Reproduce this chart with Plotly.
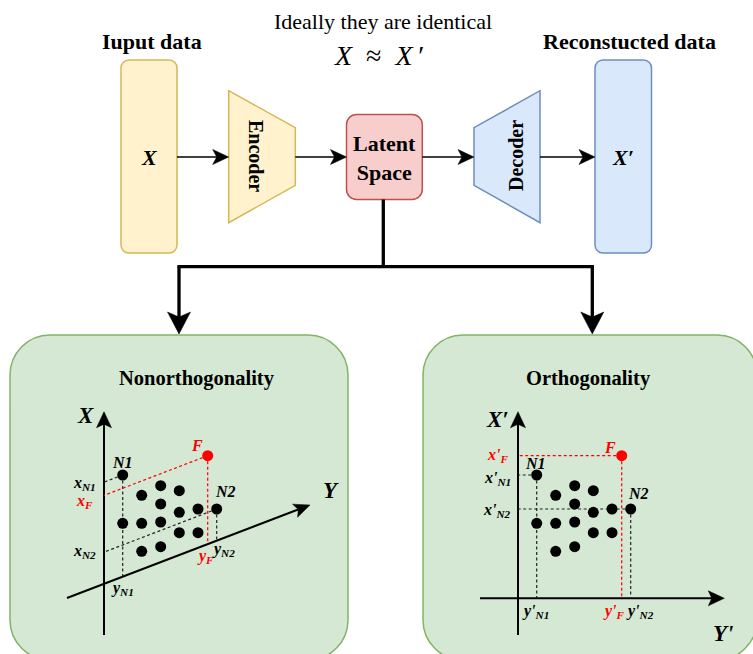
import plotly.graph_objects as go

W, H = 753, 654
FONT = "Liberation Serif, Times New Roman, serif"

# ---- data: sample points in the latent-space panels ----
# horizontal offset from the panel's vertical axis and vertical position (canvas units)
point_names = ["N1", "F", "a", "b", "c", "d", "e", "f", "N2", "g", "h", "i", "j", "k", "l", "m"]
point_dx = [18.7, 103.7, 37.7, 56.7, 75.3, 56.7, 75.3, 94.0, 112.7, 18.7, 37.7, 56.7, 75.3, 94.0, 37.7, 56.7]
point_y = [475.0, 455.7, 495.3, 485.7, 490.7, 504.0, 512.3, 509.0, 509.0, 523.3, 523.3, 522.0, 532.7, 532.7, 551.3, 546.7]
projected = ["N1", "F", "N2"]

panel_axis_x = [104.0, 518.0]   # vertical axis of left / right panel
left_yaxis = [(67.0, 598.0), (310.0, 505.0)]   # slanted Y axis (left panel)
right_yaxis_y = 598.3

YELLOW = ("#fff2cc", "#d6b656")
RED = ("#f8cecc", "#b85450")
BLUE = ("#dae8fc", "#6c8ebf")
GREEN = ("#d5e8d4", "#82b366")

shapes = []
annotations = []


def rrect(x0, y0, x1, y1, r, colors, lw=1.5):
    k = 0.5523 * r
    p = (f"M{x0+r},{y0} L{x1-r},{y0} C{x1-r+k},{y0} {x1},{y0+r-k} {x1},{y0+r} "
         f"L{x1},{y1-r} C{x1},{y1-r+k} {x1-r+k},{y1} {x1-r},{y1} "
         f"L{x0+r},{y1} C{x0+r-k},{y1} {x0},{y1-r+k} {x0},{y1-r} "
         f"L{x0},{y0+r} C{x0},{y0+r-k} {x0+r-k},{y0} {x0+r},{y0} Z")
    shapes.append(dict(type="path", path=p, fillcolor=colors[0],
                       line=dict(color=colors[1], width=lw), layer="below"))


def poly(pts, colors, lw=1.5):
    p = "M" + " L".join(f"{x},{y}" for x, y in pts) + " Z"
    shapes.append(dict(type="path", path=p, fillcolor=colors[0],
                       line=dict(color=colors[1], width=lw), layer="below"))


def line(x0, y0, x1, y1, color="black", width=1.7, dash=None):
    d = dict(type="line", x0=x0, y0=y0, x1=x1, y1=y1,
             line=dict(color=color, width=width), layer="below")
    if dash:
        d["line"]["dash"] = dash
    shapes.append(d)


def arrow(x0, y0, x1, y1, width=1.7, L=16, Wd=15, notch=4, color="black"):
    dx, dy = x1 - x0, y1 - y0
    n = (dx * dx + dy * dy) ** 0.5
    ux, uy = dx / n, dy / n
    px, py = -uy, ux
    bx, by = x1 - ux * L, y1 - uy * L
    nx, ny = x1 - ux * (L - notch), y1 - uy * (L - notch)
    line(x0, y0, nx + ux * 0.5, ny + uy * 0.5, color=color, width=width)
    p = (f"M{x1},{y1} L{bx + px*Wd/2},{by + py*Wd/2} L{nx},{ny} "
         f"L{bx - px*Wd/2},{by - py*Wd/2} Z")
    shapes.append(dict(type="path", path=p, fillcolor=color,
                       line=dict(color=color, width=0.5), layer="below"))


def text(x, y, s, size=16, color="black", angle=0):
    annotations.append(dict(x=x, y=y, xref="x", yref="y", text=s, showarrow=False,
                            textangle=angle,
                            font=dict(family=FONT, size=size, color=color),
                            xanchor="center", yanchor="middle"))


# ---------------- top: autoencoder ----------------
text(383, 21, "Ideally they are identical", size=22)
text(379, 55, "<i>X</i>\u2002≈\u2002<i>X</i>\u2009′", size=28)
text(152, 41, "<b>Iuput data</b>", size=22)
text(629, 41, "<b>Reconstucted data</b>", size=22)

rrect(121, 60, 177, 253, 8, YELLOW)
text(149, 157, "<b><i>X</i></b>", size=22)
poly([(228.7, 90.7), (295.3, 127.7), (295.3, 185.3), (228.7, 222.7)], YELLOW)
text(256, 156, "<b>Encoder</b>", size=20, angle=90)

rrect(346.5, 114.5, 422.3, 199.5, 10, RED)
text(384, 158, "<b>Latent<br>Space</b>", size=22)

poly([(474, 127.7), (540, 90.7), (540, 222.7), (474, 185.3)], BLUE)
text(516, 156, "<b>Decoder</b>", size=20, angle=-90)

rrect(595, 60, 651.5, 253, 8, BLUE)
text(623, 157, "<b><i>X′</i></b>", size=22)

arrow(177, 157, 228.7, 157)
arrow(295.3, 157, 346.5, 157)
arrow(422.3, 157, 474, 157)
arrow(540, 157, 595, 157)

# connector to the two panels
line(383.3, 199.5, 383.3, 266.7, width=3.3)
line(177.4, 266.7, 593.9, 266.7, width=3.3)
arrow(179, 266.7, 179, 334, width=3.3, L=22, Wd=23, notch=5)
arrow(592.3, 266.7, 592.3, 334, width=3.3, L=22, Wd=23, notch=5)

# ---------------- panels ----------------
rrect(10, 335, 348, 660, 40, GREEN)
rrect(423, 335, 757, 660, 40, GREEN)
text(197, 378, "<b>Nonorthogonality</b>", size=20.5)
text(588, 378, "<b>Orthogonality</b>", size=20.5)

# left panel axes
axL = panel_axis_x[0]
(yx0, yy0), (yx1, yy1) = left_yaxis
slope = (yy1 - yy0) / (yx1 - yx0)
arrow(axL, 635, axL, 411.7, width=2, L=16, Wd=15, notch=3.5)
arrow(yx0, yy0, yx1, yy1, width=2, L=16, Wd=14, notch=3.5)
text(85, 415, "<b><i>X</i></b>", size=23)
text(331, 490, "<b><i>Y</i></b>", size=23)

# right panel axes
axR = panel_axis_x[1]
arrow(axR, 635, axR, 411.7, width=2, L=16, Wd=15, notch=3.5)
arrow(480, right_yaxis_y, 724.3, right_yaxis_y, width=2, L=16, Wd=15, notch=3.5)
text(497, 419, "<b><i>X′</i></b>", size=23)
text(723, 633, "<b><i>Y'</i></b>", size=23)

DASH = "3px,2.5px"
for name, dx, py in zip(point_names, point_dx, point_y):
    if name not in projected:
        continue
    col = "#ff0000" if name == "F" else "#222222"
    # left: projections parallel to the skewed axes
    px = axL + dx
    line(px, py, axL, py - (px - axL) * slope, color=col, width=1.2, dash=DASH)
    line(px, py, px, yy0 + (px - yx0) * slope, color=col, width=1.2, dash=DASH)
    # right: orthogonal projections
    px = axR + dx
    line(px, py, axR, py, color=col, width=1.2, dash=DASH)
    line(px, py, px, right_yaxis_y, color=col, width=1.2, dash=DASH)

# points (both panels)
xs, ys, cs = [], [], []
for ax0 in panel_axis_x:
    for name, dx, py in zip(point_names, point_dx, point_y):
        xs.append(ax0 + dx)
        ys.append(py)
        cs.append("#ff0000" if name == "F" else "#000000")

fig = go.Figure(go.Scatter(x=xs, y=ys, mode="markers", hoverinfo="skip",
                           marker=dict(size=11, color=cs, line=dict(width=0))))

# point labels
RC = "#ff0000"
for (x, y, s, c) in [
    (122.7, 462, "N1", "black"), (197, 445, "F", RC), (225, 491, "N2", "black"),
    (535, 463, "N1", "black"), (610, 447, "F", RC), (638, 493, "N2", "black"),
]:
    text(x, y, f"<b><i>{s}</i></b>", size=16, color=c)

for (x, y, s, c) in [
    (84, 483, "x<sub>N1</sub>", "black"), (84, 501, "x<sub>F</sub>", RC),
    (84, 551, "x<sub>N2</sub>", "black"), (122, 588, "y<sub>N1</sub>", "black"),
    (205, 556, "y<sub>F</sub>", RC), (223, 549, "y<sub>N2</sub>", "black"),
    (497, 455, "x'<sub>F</sub>", RC), (497, 478, "x'<sub>N1</sub>", "black"),
    (497, 510, "x'<sub>N2</sub>", "black"), (535, 611, "y'<sub>N1</sub>", "black"),
    (614, 611, "y'<sub>F</sub>", RC), (640, 611, "y'<sub>N2</sub>", "black"),
]:
    text(x, y, f"<b><i>{s}</i></b>", size=16, color=c)

fig.update_layout(
    width=W, height=H, margin=dict(l=0, r=0, t=0, b=0),
    paper_bgcolor="white", plot_bgcolor="white", showlegend=False,
    xaxis=dict(range=[0, W], visible=False, fixedrange=True),
    yaxis=dict(range=[H, 0], visible=False, fixedrange=True),
    shapes=shapes, annotations=annotations,
)
fig.write_html("out.html", config={"displayModeBar": False},
               post_script="document.body.style.margin='0px';document.body.style.overflow='hidden';")
